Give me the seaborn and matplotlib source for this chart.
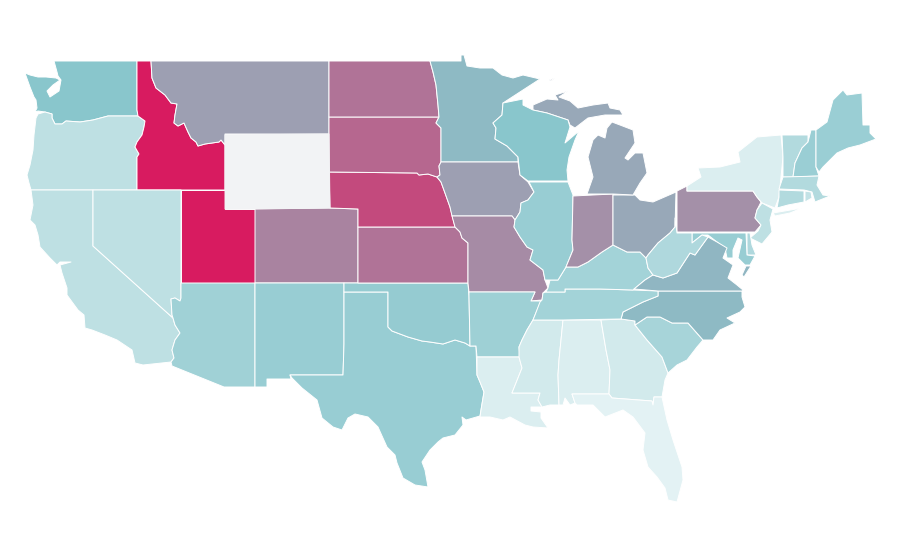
import numpy as np
import pandas as pd
import matplotlib.pyplot as plt
import seaborn as sns

# state outlines (map units = px of the 900x560 map)
WA = [(54,61),(137,61),(137,110),(138,116),(108,116),(93,120),(80,122),(66,121),(62,124),(55,124),(52,118),(52,114),(45,112),(38,111),(35,112),(37,108),(36,100),(34,97),(30,87),(25,73),(30,75),(38,77),(46,77),(56,78),(60,80),(53,85),(47,91),(50,97),(59,91),(61,80),(58,76),(57,72)]
OR = [(38,114),(45,112),(52,114),(52,118),(55,124),(62,124),(66,121),(80,122),(93,120),(108,116),(138,116),(145,121),(144,127),(142,135),(137,142),(135,147),(139,154),(137,157),(137,190),(31,190),(29,183),(27,175),(30,165),(33,150),(34,135),(36,118)]
ID = [(137,61),(151,61),(152,78),(156,88),(165,95),(171,103),(177,104),(175,115),(174,123),(178,126),(184,123),(188,132),(191,138),(196,142),(198,146),(205,144),(219,142),(221,140),(225,145),(225,190),(137,190),(137,157),(139,154),(135,147),(137,142),(142,135),(144,127),(145,121),(138,116),(137,110)]
MT = [(151,61),(329,61),(329,134),(225,134),(225,145),(221,140),(219,142),(205,144),(198,146),(196,142),(191,138),(188,132),(184,123),(178,126),(174,123),(175,115),(177,104),(171,103),(165,95),(156,88),(152,78)]
WY = [(225,135),(329,134),(330,208),(225,209)]
CA = [(31,190),(93,190),(93,246),(173,318),(175,325),(180,333),(175,340),(172,350),(174,358),(171,362),(143,365),(135,363),(132,350),(117,340),(105,335),(92,330),(85,328),(84,315),(78,310),(67,295),(67,288),(62,273),(60,265),(71,262),(60,262),(57,265),(50,258),(40,247),(38,235),(35,225),(30,220),(33,205)]
NV = [(93,190),(181,190),(181,298),(180,301),(175,298),(171,299),(172,315),(173,318),(93,246)]
UT = [(181,190),(225,190),(225,209),(255,209),(255,283),(181,283)]
AZ = [(181,283),(255,283),(255,387),(224,387),(172,366),(171,362),(174,358),(172,350),(175,340),(180,333),(175,325),(173,318),(172,315),(171,299),(175,298),(180,301),(181,298)]
CO = [(255,209),(330,208),(358,209),(358,283),(255,283)]
NM = [(255,283),(344,283),(344,344),(343,375),(290,375),(291,379),(267,379),(267,387),(255,387)]
TX = [(344,292),(388,292),(388,327),(392,331),(400,334),(408,337),(415,339),(422,341),(430,342),(443,344),(455,340),(465,343),(470,346),(476,346),(477,375),(480,382),(484,392),(481,410),(480,416),(466,420),(462,417),(463,425),(455,435),(443,438),(438,442),(430,450),(422,462),(425,470),(428,487),(415,485),(403,478),(397,463),(395,455),(387,447),(378,427),(368,417),(355,414),(348,418),(342,430),(333,427),(322,418),(317,400),(302,388),(292,378),(290,375),(343,375),(344,344)]
OK = [(344,283),(468,283),(469,296),(470,346),(465,343),(455,340),(443,344),(430,342),(422,341),(415,339),(408,337),(400,334),(392,331),(388,327),(388,292),(344,292)]
KS = [(358,227),(455,227),(460,232),(462,238),(468,243),(468,283),(358,283)]
NE = [(329,172),(417,173),(419,175),(428,174),(437,177),(441,182),(445,193),(450,207),(452,215),(455,227),(358,227),(358,209),(330,208)]
SD = [(329,117),(439,117),(436,123),(441,128),(441,162),(439,166),(440,175),(437,177),(428,174),(419,175),(417,173),(329,172)]
ND = [(329,61),(430,61),(433,72),(436,85),(438,105),(439,117),(329,117)]
MN = [(430,61),(461,61),(461,55),(464,55),(467,66),(480,68),(493,68),(502,75),(513,78),(523,75),(540,79),(523,90),(503,103),(502,115),(493,123),(496,128),(495,139),(507,146),(518,157),(518,162),(441,162),(441,128),(436,123),(439,117),(438,105),(436,85),(433,72)]
IA = [(441,162),(518,162),(520,175),(528,182),(534,192),(528,200),(521,203),(520,212),(515,220),(512,216),(452,216),(450,207),(445,193),(441,182),(437,177),(440,175),(439,166)]
MO = [(452,216),(512,216),(515,220),(514,227),(520,237),(527,247),(533,250),(530,260),(543,270),(545,280),(548,288),(543,293),(542,300),(531,301),(535,292),(469,292),(468,283),(468,243),(462,238),(460,232),(455,227)]
AR = [(469,292),(535,292),(531,301),(542,301),(540,303),(533,320),(527,330),(522,340),(519,347),(520,357),(477,357),(476,346),(470,346),(469,296)]
LA = [(477,357),(519,357),(522,368),(518,378),(512,393),(540,393),(538,400),(542,407),(531,407),(531,411),(541,412),(541,418),(548,428),(533,427),(525,425),(510,417),(503,420),(490,417),(480,417),(481,410),(484,392),(480,382),(477,375)]
MS = [(533,320),(563,320),(559,360),(558,375),(559,405),(550,405),(542,407),(538,400),(540,393),(512,393),(518,378),(522,368),(519,357),(519,347),(522,340),(527,330)]
AL = [(563,320),(601,320),(606,350),(610,370),(609,394),(572,394),(575,403),(570,405),(565,398),(563,405),(559,405),(558,375),(559,360)]
GA = [(601,320),(621,319),(635,321),(635,325),(647,340),(662,357),(668,373),(665,380),(662,397),(654,397),(653,405),(652,401),(612,398),(609,394),(610,370),(606,350)]
FL = [(572,394),(609,394),(612,398),(652,401),(653,405),(654,397),(662,397),(667,420),(673,440),(682,467),(683,480),(677,502),(668,500),(665,488),(657,477),(648,467),(643,450),(645,433),(633,417),(623,410),(605,417),(593,405),(577,405),(575,403)]
SC = [(635,325),(647,317),(660,317),(672,323),(688,323),(703,340),(697,347),(687,360),(677,365),(668,373),(662,357),(647,340)]
NC = [(742,291),(658,291),(658,296),(643,302),(623,312),(621,319),(635,321),(635,325),(647,317),(660,317),(672,323),(688,323),(703,340),(713,340),(720,330),(735,323),(727,318),(740,312),(745,307),(742,297)]
TN = [(546,292),(565,292),(565,289),(600,289),(633,290),(658,291),(658,296),(643,302),(623,312),(621,319),(563,320),(533,320),(535,315),(540,302),(542,300),(543,293)]
KY = [(546,292),(548,288),(550,280),(558,280),(566,267),(578,267),(588,262),(602,252),(613,245),(627,252),(640,252),(646,258),(648,268),(653,275),(645,280),(633,290),(600,289),(565,289),(565,292)]
IL = [(529,182),(568,182),(573,195),(572,240),(573,250),(566,267),(558,280),(550,280),(545,280),(543,270),(530,260),(533,250),(527,247),(520,237),(514,227),(515,220),(520,212),(521,203),(528,200),(534,192)]
IN = [(573,196),(613,194),(613,245),(602,252),(588,262),(578,267),(566,267),(573,250),(572,240)]
OH = [(613,195),(635,195),(640,200),(653,202),(676,192),(675,227),(670,233),(658,243),(648,255),(646,258),(640,252),(627,252),(613,245)]
PA = [(677,191),(687,186),(687,191),(753,191),(757,197),(761,202),(757,210),(755,218),(761,225),(755,232),(677,232)]
NY = [(687,186),(701,177),(698,168),(720,167),(740,162),(738,152),(757,137),(781,135),(783,157),(779,197),(775,208),(762,203),(757,197),(753,191),(687,191)]
NY_ISLAND = [(773,213),(802,208),(790,213),(775,216)]
VT = [(782,135),(808,135),(808,142),(802,148),(795,163),(793,177),(783,177),(783,157)]
NH = [(808,142),(811,130),(816,130),(816,167),(819,176),(793,177),(795,163),(802,148)]
ME = [(816,130),(827,122),(833,100),(843,90),(847,95),(862,93),(863,125),(870,125),(870,133),(876,139),(860,145),(848,148),(837,153),(823,167),(819,172),(816,167)]
MA = [(783,177),(819,176),(817,185),(823,195),(830,196),(815,202),(812,192),(804,190),(779,189)]
CT = [(779,190),(804,191),(804,202),(788,205),(777,208),(779,197)]
RI = [(805,191),(811,192),(812,198),(805,202)]
NJ = [(762,203),(773,209),(770,220),(772,232),(762,244),(750,238),(758,231),(761,225),(755,218),(757,210)]
DE = [(747,233),(750,233),(752,245),(756,255),(747,255)]
MD = [(692,233),(746,233),(747,255),(755,256),(750,265),(745,265),(738,258),(742,240),(738,238),(733,250),(733,258),(727,258),(725,248),(717,242),(708,235),(702,235),(692,243)]
VA = [(634,289),(645,280),(653,275),(663,278),(677,273),(690,253),(695,255),(708,237),(717,242),(727,248),(723,258),(733,265),(728,278),(737,285),(743,290),(742,291),(658,291)]
VA_SHORE = [(746,266),(751,266),(744,277),(742,275)]
WV = [(675,218),(677,233),(692,233),(692,243),(702,235),(708,237),(695,255),(690,253),(677,273),(663,278),(653,275),(648,268),(646,258),(648,255),(658,243),(670,233),(675,227)]
MI_LOWER = [(587,194),(613,194),(633,195),(640,183),(647,173),(643,153),(635,153),(628,160),(625,158),(635,143),(633,130),(620,125),(612,122),(607,128),(605,138),(598,135),(593,140),(588,157),(593,177)]
MI_UPPER = [(533,105),(547,99),(558,100),(555,95),(568,91),(559,97),(570,101),(578,108),(593,105),(608,103),(610,108),(620,110),(623,115),(605,115),(588,118),(575,128),(570,125),(568,120),(547,113),(533,110)]
MI_ISLAND = [(549,80),(555,78),(551,81)]
WI = [(503,103),(523,99),(523,105),(533,110),(547,113),(568,120),(570,127),(565,143),(579,131),(575,140),(569,157),(567,170),(568,181),(528,181),(520,175),(518,157),(507,146),(495,139),(496,128),(493,123),(502,115)]

# rate per shape, 0-1 estimated from the fill colour
shape_names = ['WA','OR','ID','MT','WY','CA','NV','UT','AZ','CO','NM','TX','OK','KS','NE','SD','ND','MN','IA','MO','AR','LA','MS','AL','GA','FL','SC','NC','TN','KY','IL','IN','OH','PA','NY','NY_ISLAND','VT','NH','ME','MA','CT','RI','NJ','DE','MD','VA','VA_SHORE','WV','MI_LOWER','MI_UPPER','MI_ISLAND','WI']
rates = [.33,.15,1.0,.67,np.nan,.15,.15,1.0,.25,.74,.28,.28,.29,.78,.88,.81,.78,.44,.67,.72,.26,.05,.08,.05,.08,.02,.23,.44,.24,.24,.28,.71,.60,.71,.05,.05,.19,.27,.27,.19,.19,.13,.15,.2,.28,.47,.47,.2,.60,.60,.60,.33]
outlines = [WA,OR,ID,MT,WY,CA,NV,UT,AZ,CO,NM,TX,OK,KS,NE,SD,ND,MN,IA,MO,AR,LA,MS,AL,GA,FL,SC,NC,TN,KY,IL,IN,OH,PA,NY,NY_ISLAND,VT,NH,ME,MA,CT,RI,NJ,DE,MD,VA,VA_SHORE,WV,MI_LOWER,MI_UPPER,MI_ISLAND,WI]

df = pd.DataFrame({'state': shape_names, 'rate': rates})

sns.set_style('white')
cmap = sns.blend_palette(['#e9f5f6', '#88c5cc', '#9ca1b3', '#d81b60'], as_cmap=True)

fig = plt.figure(figsize=(9, 5.6), dpi=100)
ax = fig.add_axes([0, 0, 1, 1])

for name, rate, outline in zip(df['state'], df['rate'], outlines):
    pts = np.array(outline)
    color = '#f2f3f5' if np.isnan(rate) else cmap(rate)
    edge = color if np.isnan(rate) else 'white'
    ax.fill(pts[:, 0], pts[:, 1], facecolor=color, edgecolor=edge,
            linewidth=0.7, joinstyle='round', zorder=3 if name == 'WY' else 2)

ax.set_xlim(0, 900)
ax.set_ylim(560, 0)
ax.axis('off')

fig.savefig('out.png', dpi=100, facecolor='white')
